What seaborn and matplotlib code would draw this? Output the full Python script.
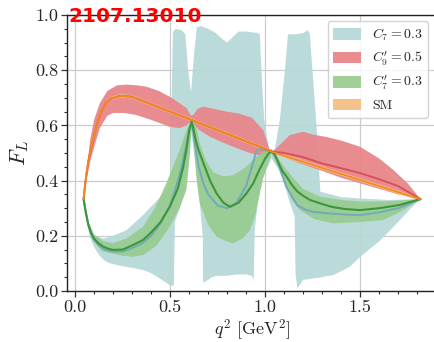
import numpy as np
import pandas as pd
import matplotlib
matplotlib.use("Agg")
import matplotlib.pyplot as plt
import seaborn as sns

# ---------------- data ----------------
# SM
sm_q = [0.045, 0.052, 0.06, 0.07, 0.08, 0.095, 0.11, 0.13, 0.147, 0.165, 0.19, 0.235, 0.30, 0.40,
        0.50, 0.61, 0.70, 0.80, 0.90, 0.972, 1.034, 1.10, 1.20, 1.30, 1.40, 1.50, 1.60, 1.70, 1.817]
sm_f = [0.333, 0.38, 0.425, 0.47, 0.505, 0.547, 0.59, 0.635, 0.662, 0.682, 0.697, 0.707, 0.704,
        0.677, 0.65, 0.62, 0.596, 0.569, 0.542, 0.523, 0.505, 0.49, 0.468, 0.446, 0.424, 0.402,
        0.38, 0.358, 0.333]

# C9' = 0.5
c9_q = sm_q
c9_f = [0.333, 0.38, 0.425, 0.47, 0.505, 0.547, 0.59, 0.635, 0.662, 0.682, 0.697, 0.707, 0.704,
        0.677, 0.65, 0.62, 0.596, 0.569, 0.542, 0.523, 0.505, 0.50, 0.485, 0.462, 0.445, 0.427,
        0.405, 0.38, 0.333]
c9_up_q = [0.045, 0.06, 0.08, 0.10, 0.13, 0.17, 0.22, 0.27, 0.33, 0.376, 0.44, 0.498, 0.55, 0.586,
           0.61, 0.625, 0.645, 0.673, 0.73, 0.797, 0.86, 0.93, 0.96, 0.99, 1.025, 1.034, 1.06,
           1.13, 1.20, 1.25, 1.323, 1.40, 1.498, 1.60, 1.675, 1.75, 1.817]
c9_up_f = [0.333, 0.43, 0.55, 0.62, 0.68, 0.725, 0.745, 0.748, 0.745, 0.74, 0.725, 0.704, 0.68, 0.663,
           0.635, 0.64, 0.66, 0.668, 0.66, 0.65, 0.643, 0.628, 0.605, 0.583, 0.51, 0.505, 0.518,
           0.565, 0.577, 0.567, 0.558, 0.545, 0.523, 0.48, 0.438, 0.39, 0.333]
c9_lo_q = [0.045, 0.06, 0.08, 0.10, 0.13, 0.17, 0.20, 0.26, 0.32, 0.40, 0.498, 0.55, 0.586, 0.61,
           0.65, 0.709, 0.77, 0.83, 0.88, 0.92, 0.98, 1.034, 1.08, 1.18, 1.30, 1.40, 1.50, 1.60,
           1.70, 1.817]
c9_lo_f = [0.333, 0.40, 0.47, 0.52, 0.59, 0.635, 0.645, 0.645, 0.638, 0.62, 0.595, 0.59, 0.60, 0.615,
           0.585, 0.559, 0.54, 0.523, 0.51, 0.50, 0.49, 0.50, 0.49, 0.463, 0.435, 0.41, 0.39, 0.37,
           0.35, 0.333]

# C7' = 0.3
c7p_q = [0.045, 0.055, 0.07, 0.085, 0.10, 0.125, 0.15, 0.175, 0.20, 0.25, 0.30, 0.358, 0.40, 0.45,
         0.498, 0.54, 0.569, 0.585, 0.60, 0.613, 0.622, 0.635, 0.65, 0.674, 0.71, 0.744, 0.78,
         0.815, 0.86, 0.902, 0.937, 0.97, 1.00, 1.02, 1.034, 1.05, 1.07, 1.09, 1.113, 1.14, 1.17,
         1.20, 1.235, 1.30, 1.35, 1.42, 1.498, 1.60, 1.709, 1.817]
c7p_f = [0.333, 0.29, 0.24, 0.21, 0.19, 0.172, 0.16, 0.153, 0.149, 0.15, 0.165, 0.185, 0.212, 0.25,
         0.305, 0.37, 0.45, 0.51, 0.58, 0.613, 0.59, 0.545, 0.51, 0.465, 0.40, 0.354, 0.32,
         0.305, 0.32, 0.354, 0.39, 0.44, 0.48, 0.50, 0.505, 0.495, 0.465, 0.435, 0.414, 0.385, 0.36,
         0.345, 0.33, 0.315, 0.305, 0.297, 0.293, 0.30, 0.312, 0.333]
c7p_up_q = [0.045, 0.07, 0.10, 0.15, 0.20, 0.27, 0.358, 0.42, 0.48, 0.55, 0.59, 0.613, 0.635, 0.656,
            0.69, 0.727, 0.78, 0.832, 0.88, 0.92, 0.96, 1.007, 1.034, 1.07, 1.10, 1.147, 1.20,
            1.288, 1.40, 1.50, 1.65, 1.817]
c7p_up_f = [0.333, 0.25, 0.205, 0.18, 0.174, 0.19, 0.233, 0.30, 0.39, 0.51, 0.59, 0.62, 0.60, 0.535,
            0.47, 0.43, 0.415, 0.42, 0.44, 0.463, 0.49, 0.51, 0.515, 0.48, 0.45, 0.41, 0.37,
            0.342, 0.33, 0.324, 0.325, 0.333]
c7p_lo_q = [0.045, 0.07, 0.10, 0.14, 0.183, 0.25, 0.30, 0.358, 0.43, 0.498, 0.55, 0.586, 0.605,
            0.613, 0.625, 0.64, 0.656, 0.70, 0.744, 0.797, 0.832, 0.88, 0.92, 0.95, 0.99, 1.034,
            1.06, 1.095, 1.14, 1.183, 1.26, 1.358, 1.50, 1.62, 1.72, 1.817]
c7p_lo_f = [0.333, 0.23, 0.18, 0.145, 0.137, 0.128, 0.124, 0.13, 0.165, 0.233, 0.30, 0.366, 0.50,
            0.60, 0.52, 0.40, 0.318, 0.24, 0.197, 0.18, 0.173, 0.19, 0.22, 0.28, 0.41, 0.50,
            0.46, 0.414, 0.33, 0.293, 0.26, 0.245, 0.25, 0.257, 0.29, 0.333]

# C7 = 0.3
c7_q = [0.045, 0.055, 0.07, 0.085, 0.10, 0.125, 0.15, 0.175, 0.20, 0.25, 0.30, 0.358, 0.40, 0.45,
        0.50, 0.55, 0.58, 0.60, 0.612, 0.625, 0.65, 0.675, 0.70, 0.75, 0.80, 0.85, 0.90, 0.93,
        0.955, 0.975, 1.00, 1.034, 1.06, 1.09, 1.11, 1.13, 1.17, 1.21, 1.25, 1.323, 1.42, 1.50,
        1.60, 1.70, 1.817]
c7_f = [0.333, 0.29, 0.24, 0.205, 0.185, 0.165, 0.152, 0.146, 0.143, 0.143, 0.155, 0.175, 0.20,
        0.245, 0.31, 0.42, 0.51, 0.585, 0.612, 0.56, 0.45, 0.39, 0.35, 0.31, 0.30, 0.32, 0.38,
        0.45, 0.51, 0.515, 0.51, 0.505, 0.48, 0.42, 0.38, 0.355, 0.31, 0.295, 0.287, 0.282,
        0.277, 0.275, 0.285, 0.30, 0.333]
c7_up_q = [0.045, 0.07, 0.10, 0.15, 0.20, 0.27, 0.35, 0.42, 0.47, 0.49, 0.50, 0.515, 0.53, 0.56,
           0.58, 0.595, 0.61, 0.625, 0.64, 0.66, 0.70, 0.74, 0.78, 0.80, 0.83, 0.86, 0.90, 0.96,
           0.972, 0.98, 0.995, 1.02, 1.034, 1.05, 1.077, 1.104, 1.12, 1.16, 1.20, 1.225, 1.235,
           1.272, 1.287, 1.29, 1.40, 1.50, 1.65, 1.817]
c7_up_f = [0.333, 0.24, 0.20, 0.19, 0.20, 0.22, 0.27, 0.32, 0.355, 0.37, 0.40, 0.94, 0.95, 0.945,
           0.93, 0.80, 0.72, 0.85, 0.955, 0.96, 0.95, 0.935, 0.91, 0.90, 0.92, 0.94, 0.94, 0.935,
           0.93, 0.80, 0.62, 0.51, 0.505, 0.51, 0.62, 0.80, 0.93, 0.93, 0.935, 0.945, 0.93,
           0.58, 0.40, 0.36, 0.34, 0.335, 0.33, 0.333]
c7_lo_q = [0.045, 0.06, 0.08, 0.10, 0.12, 0.14, 0.16, 0.183, 0.25, 0.30, 0.358, 0.40, 0.446, 0.49,
           0.50, 0.52, 0.525, 0.56, 0.59, 0.61, 0.63, 0.65, 0.665, 0.672, 0.673, 0.70, 0.72, 0.75,
           0.80, 0.85, 0.90, 0.93, 0.94, 0.945, 0.97, 1.00, 1.034, 1.07, 1.10, 1.13, 1.155, 1.16,
           1.17, 1.20, 1.27, 1.36, 1.446, 1.50, 1.60, 1.70, 1.78, 1.817]
c7_lo_f = [0.333, 0.25, 0.19, 0.16, 0.137, 0.12, 0.108, 0.10, 0.09, 0.084, 0.076, 0.065, 0.045,
           0.025, 0.02, 0.02, 0.25, 0.32, 0.44, 0.58, 0.48, 0.36, 0.25, 0.20, 0.03, 0.04, 0.05,
           0.055, 0.055, 0.06, 0.06, 0.055, 0.04, 0.22, 0.38, 0.43, 0.48, 0.44, 0.39, 0.32, 0.27,
           0.06, 0.01, 0.04, 0.047, 0.058, 0.088, 0.124, 0.18, 0.25, 0.31, 0.333]

labels = [r"$C_7 = 0.3$", r"$C_9' = 0.5$", r"$C_7' = 0.3$", "SM"]

# ---------------- style ----------------
sns.set_theme(style="ticks")
plt.rcParams["font.family"] = ["serif"]
plt.rcParams["font.serif"] = ["cmr10", "DejaVu Serif"]
plt.rcParams["mathtext.fontset"] = "cm"
plt.rcParams["axes.formatter.use_mathtext"] = True
plt.rcParams["axes.unicode_minus"] = False

fig = plt.figure(figsize=(4.34, 3.42), dpi=100)
ax = fig.add_axes([66.7 / 434, 1 - 291 / 342, (437.4 - 66.7) / 434, (291 - 15) / 342])

fill_teal = "#b7d9d7"
fill_red = "#e8868a"
fill_green = "#98cb8f"
fill_orange = "#f6c28c"

def band(qu, fu, ql, fl, color, z, alpha):
    xs = np.concatenate([np.asarray(qu), np.asarray(ql)[::-1]])
    ys = np.concatenate([np.asarray(fu), np.asarray(fl)[::-1]])
    return ax.fill(xs, ys, color=color, lw=0, zorder=z, alpha=alpha)[0]

h1 = band(c7_up_q, c7_up_f, c7_lo_q, c7_lo_f, fill_teal, 1, 0.95)
h2 = band(c9_up_q, c9_up_f, c9_lo_q, c9_lo_f, fill_red, 2, 0.95)
h3 = band(c7p_up_q, c7p_up_f, c7p_lo_q, c7p_lo_f, fill_green, 3, 0.92)
sm_up = [v + 0.006 for v in sm_f]
sm_lo = [v - 0.006 for v in sm_f]
h4 = band(sm_q, sm_up, sm_q, sm_lo, fill_orange, 4, 1.0)

sns.lineplot(x=c7_q, y=c7_f, ax=ax, color="#72aab8", lw=1.4, zorder=5, sort=False, legend=False)
sns.lineplot(x=c9_q, y=c9_f, ax=ax, color="#d9505a", lw=1.4, zorder=5, sort=False, legend=False)
sns.lineplot(x=c7p_q, y=c7p_f, ax=ax, color="#3c963c", lw=1.5, zorder=6, sort=False, legend=False)
sns.lineplot(x=sm_q, y=sm_f, ax=ax, color="#f2891c", lw=1.3, zorder=7, sort=False, legend=False)

ax.set_xlim(-0.044, 1.906)
ax.set_ylim(0.0, 1.0)
ax.set_xticks([0.0, 0.5, 1.0, 1.5])
ax.set_xticklabels(["0.0", "0.5", "1.0", "1.5"])
ax.set_yticks([0.0, 0.2, 0.4, 0.6, 0.8, 1.0])
ax.set_yticklabels(["0.0", "0.2", "0.4", "0.6", "0.8", "1.0"])
ax.xaxis.set_minor_locator(matplotlib.ticker.MultipleLocator(0.1))
ax.yaxis.set_minor_locator(matplotlib.ticker.MultipleLocator(0.05))
ax.tick_params(axis="both", which="major", length=4, width=0.9, labelsize=13, color="#333333", pad=2)
ax.tick_params(axis="both", which="minor", length=2.5, width=0.8, color="#333333")
ax.grid(True, which="major", color="#cccccc", lw=0.9)
ax.set_axisbelow(True)
for s in ["left", "bottom", "top", "right"]:
    ax.spines[s].set_color("#222222")
    ax.spines[s].set_linewidth(1.0)

ax.set_xlabel(r"$q^2$ [GeV$^2$]", fontsize=13, labelpad=2)
ax.set_ylabel(r"$F_L$", fontsize=16, labelpad=3)

leg = ax.legend([h1, h2, h3, h4], labels, loc="upper right", bbox_to_anchor=(428 / 434, 1 - 21 / 342),
                bbox_transform=fig.transFigure, fontsize=10, frameon=True, handlelength=2.0,
                handleheight=0.9, borderpad=0.4, labelspacing=0.45, handletextpad=0.8,
                borderaxespad=0.0)
leg.get_frame().set_edgecolor("#cccccc")
leg.get_frame().set_alpha(0.85)

fig.text(68 / 434, 1 - 17 / 342, "2107.13010", color="red", fontsize=14.5, fontweight="bold",
         family="DejaVu Sans", va="center", ha="left")

fig.savefig("out.png", dpi=100)
